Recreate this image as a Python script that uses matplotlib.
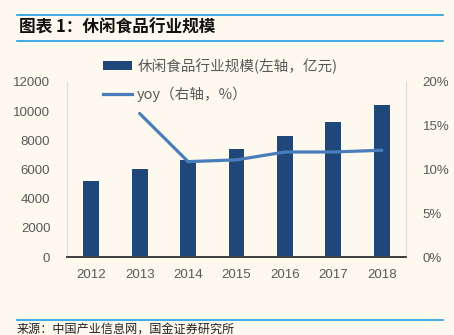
import matplotlib
matplotlib.use("Agg")
import matplotlib.pyplot as plt
from matplotlib.lines import Line2D
from matplotlib.patches import Patch
import numpy as np

plt.rcParams['font.family'] = ['Liberation Sans', 'Noto Sans CJK SC', 'DejaVu Sans']

years = ['2012', '2013', '2014', '2015', '2016', '2017', '2018']
scale = [5180, 6050, 6680, 7420, 8270, 9260, 10400]
yoy_years = ['2013', '2014', '2015', '2016', '2017', '2018']
yoy = [16.4, 10.9, 11.1, 12.0, 12.0, 12.2]

left_ticks = [0, 2000, 4000, 6000, 8000, 10000, 12000]
right_ticks = [0, 5, 10, 15, 20]

bg = '#FDF9EF'
bar_color = '#1F4779'
line_color = '#4A7EBB'
rule_color = '#1E9BE2'
txt = '#595959'

fig = plt.figure(figsize=(4.54, 3.35), dpi=100, facecolor=bg)
ax = fig.add_axes([67/454, 1-257/335, (406-67)/454, (257-82)/335])
ax.set_facecolor(bg)

x = np.arange(len(years))
ax.bar(x, scale, width=0.33, color=bar_color, zorder=2)
ax.set_xlim(-0.5, len(years)-0.5)
ax.set_ylim(0, 12000)
ax.set_yticks(left_ticks)
ax.set_xticks(x)
ax.set_xticklabels(years)
ax.tick_params(axis='both', length=0, labelsize=9.5, colors=txt)
ax.tick_params(axis='x', pad=9)
ax.tick_params(axis='y', pad=12)

ax2 = ax.twinx()
xi = [years.index(y) for y in yoy_years]
ax2.plot(xi, yoy, color=line_color, lw=2.3, zorder=3, solid_capstyle='round')
ax2.set_ylim(0, 20)
ax2.set_yticks(right_ticks)
ax2.set_yticklabels([f'{t}%' for t in right_ticks])
ax2.tick_params(axis='both', length=0, labelsize=9.5, colors=txt)
ax2.tick_params(axis='y', pad=12)

for a in (ax, ax2):
    a.spines['top'].set_visible(False)
    a.spines['left'].set_color('#E3DED3')
    a.spines['right'].set_color('#E3DED3')
    a.spines['bottom'].set_color('#404040')
    a.spines['bottom'].set_linewidth(1.3)

handles = [Patch(facecolor=bar_color, edgecolor='none'),
           Line2D([0], [0], color=line_color, lw=2.3)]
labels = ['休闲食品行业规模(左轴，亿元)', 'yoy（右轴，%）']
leg = fig.legend(handles, labels, loc='upper left', bbox_to_anchor=(103/454, 1-58/335),
                 frameon=False, fontsize=10.5, handlelength=2.0, handleheight=0.55,
                 labelspacing=0.85, handletextpad=0.35, borderaxespad=0, borderpad=0)
for t in leg.get_texts():
    t.set_color(txt)
    t.set_family(['Noto Sans CJK SC', 'DejaVu Sans'])

# header rules and title
fig.add_artist(Line2D([17/454, 443/454], [1-15/335, 1-15/335], color=rule_color, lw=1.2))
fig.add_artist(Line2D([17/454, 443/454], [1-41/335, 1-41/335], color=rule_color, lw=1.2))
fig.add_artist(Line2D([17/454, 443/454], [1-320/335, 1-320/335], color=rule_color, lw=1.2))
fig.text(19/454, 1-28/335, '图表 1：休闲食品行业规模', fontsize=12, fontweight='bold',
         style='italic', color='#111111', va='center', ha='left',
         family=['Noto Sans CJK SC', 'DejaVu Sans'])
fig.text(17/454, 1-329/335, '来源：中国产业信息网，国金证券研究所', fontsize=8.7,
         color='#222222', va='center', ha='left', family=['Noto Sans CJK SC', 'DejaVu Sans'])

fig.savefig('out.png', dpi=100, facecolor=bg)
